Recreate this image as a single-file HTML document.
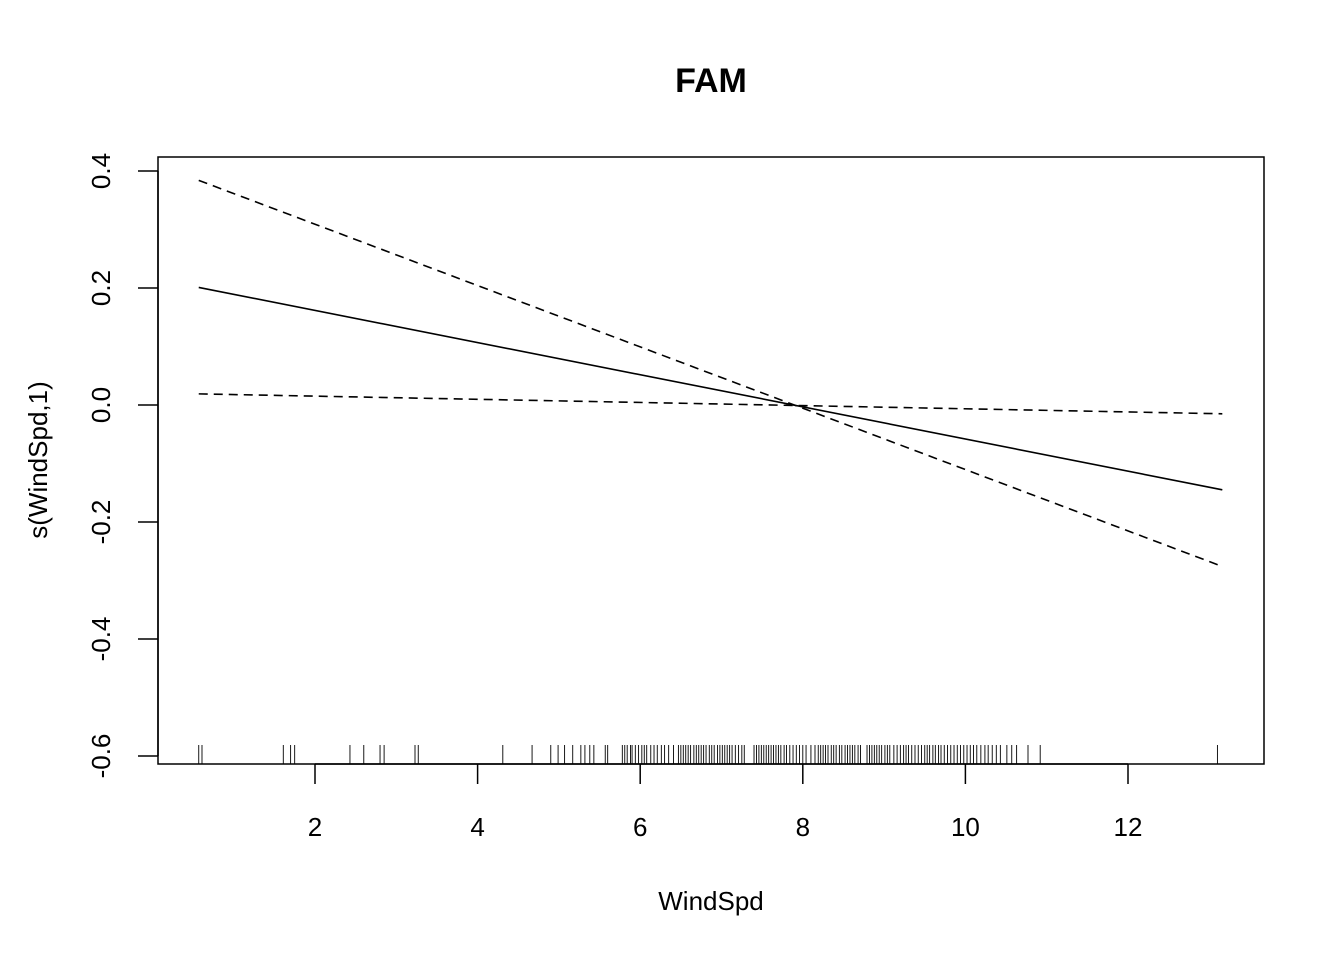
<!DOCTYPE html>
<html><head><meta charset="utf-8"><style>
body{margin:0;background:#fff}
svg text{font-family:"Liberation Sans",Arial,sans-serif;fill:#000}
</style></head><body>
<svg id="chart" width="1344" height="960" xmlns="http://www.w3.org/2000/svg">
<text x="711" y="92" font-size="34" font-weight="bold" text-anchor="middle">FAM</text>
<rect x="158" y="157" width="1106" height="607" fill="none" stroke="#000" stroke-width="1.5"/>
<g id="xaxis"></g>
<g id="yaxis"></g>
<g id="lines"></g>
<g id="rug"></g>
<text x="711" y="910" font-size="26" text-anchor="middle">WindSpd</text>
<text transform="translate(47,460) rotate(-90)" font-size="26" text-anchor="middle">s(WindSpd,1)</text>
</svg>
<script>
const xTicks=[2,4,6,8,10,12];
const yTicks=[-0.6,-0.4,-0.2,0.0,0.2,0.4];
const yTickLabels=["-0.6","-0.4","-0.2","0.0","0.2","0.4"];
const lineX=[0.57,13.16];
const fitY=[0.201,-0.145];
const upperY=[0.384,-0.276];
const lowerY=[0.019,-0.015];
const rugVals=[0.57,0.61,1.61,1.70,1.75,2.43,2.60,2.80,2.85,3.23,3.27,4.31,4.67,4.90,4.99,5.07,5.17,5.27,5.32,5.38,5.43,5.57,5.60,
5.78,5.81,5.84,5.88,5.90,5.94,5.98,6.02,6.05,6.08,6.13,6.17,6.21,6.26,6.30,6.35,6.41,6.47,6.50,6.53,6.56,6.59,6.62,6.66,6.69,6.72,6.75,6.78,6.81,6.85,6.88,6.91,6.95,6.98,7.01,7.04,7.07,7.10,7.13,7.17,7.21,7.25,7.28,
7.40,7.43,7.46,7.49,7.52,7.55,7.58,7.61,7.64,7.67,7.70,7.73,7.77,7.80,7.84,7.88,7.92,7.96,8.00,8.04,8.10,8.15,8.19,8.22,8.25,8.28,8.31,8.35,8.38,8.41,8.45,8.48,8.52,8.55,8.58,8.61,8.64,8.68,8.71,
8.79,8.82,8.85,8.88,8.91,8.94,8.97,9.01,9.04,9.07,9.12,9.16,9.20,9.24,9.27,9.30,9.34,9.38,9.42,9.46,9.50,9.53,9.56,9.60,9.63,9.67,9.70,9.74,9.78,9.82,9.86,9.90,9.94,9.98,10.02,10.06,10.10,10.14,10.19,10.24,10.28,10.33,10.38,10.43,
10.51,10.57,10.63,10.77,10.92,13.1];
const NS="http://www.w3.org/2000/svg";
const X=v=>152.4+81.3*v;
const Y=v=>405-585*v;
function mk(tag,attrs,parent){const e=document.createElementNS(NS,tag);for(const k in attrs)e.setAttribute(k,attrs[k]);parent.appendChild(e);return e;}
const xa=document.getElementById('xaxis'),ya=document.getElementById('yaxis'),lg=document.getElementById('lines'),rg=document.getElementById('rug');
mk('line',{x1:X(xTicks[0]),x2:X(xTicks[xTicks.length-1]),y1:764,y2:764,stroke:'#000','stroke-width':1.5},xa);
xTicks.forEach(t=>{
 const l=mk('line',{x1:X(t),x2:X(t),y1:764,y2:784,stroke:'#000','stroke-width':1.5},xa);
 
 
 const tx=mk('text',{x:X(t),y:836,'font-size':26,'text-anchor':'middle'},xa);tx.textContent=t;
 
 
});
mk('line',{x1:158,x2:158,y1:Y(yTicks[0]),y2:Y(yTicks[yTicks.length-1]),stroke:'#000','stroke-width':1.5},ya);
yTicks.forEach((t,i)=>{
 const l=mk('line',{x1:138,x2:158,y1:Y(t),y2:Y(t),stroke:'#000','stroke-width':1.5},ya);
 
 
 const tx=mk('text',{transform:`translate(110,${Y(t)}) rotate(-90)`,'font-size':26,'text-anchor':'middle'},ya);tx.textContent=yTickLabels[i];
 
 
});
function line(ys,dash,name){
 const l=mk('line',{x1:X(lineX[0]),y1:Y(ys[0]),x2:X(lineX[1]),y2:Y(ys[1]),stroke:'#000','stroke-width':1.6},lg);
 if(dash)l.setAttribute('stroke-dasharray','9,6');
 
 
}
line(fitY,false,'fit-line');line(upperY,true,'upper-ci-line');line(lowerY,true,'lower-ci-line');
rugVals.forEach(v=>{
 const l=mk('line',{x1:X(v),x2:X(v),y1:745,y2:764,stroke:'#000','stroke-width':0.9},rg);
 
 
});
</script>
</body></html>
